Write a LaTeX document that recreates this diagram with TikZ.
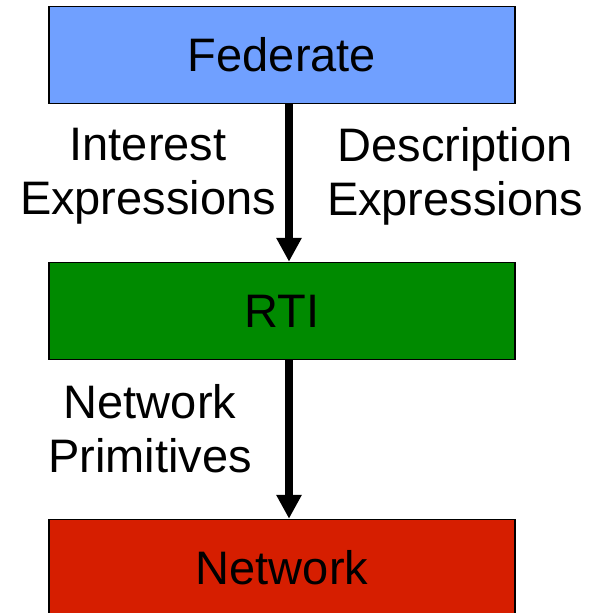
\documentclass[tikz,border=0pt]{standalone}
\usepackage{fontspec}
\setmainfont{Liberation Sans}
\usetikzlibrary{arrows.meta}
\definecolor{fedblue}{RGB}{112,160,255}
\definecolor{rtigreen}{RGB}{0,138,0}
\definecolor{netred}{RGB}{214,30,0}
\tikzset{
  layerbox/.style={draw=black, line width=1.5pt, minimum width=466pt, minimum height=97pt, inner sep=0pt, font=\fontsize{47}{55}\selectfont},
  flowarrow/.style={line width=8pt, -{Triangle[width=24pt,length=24pt]}},
  lbl/.style={align=center, inner sep=0pt, font=\fontsize{47}{54}\selectfont}
}
\begin{document}
\begin{tikzpicture}[x=1pt,y=-1pt]
\useasboundingbox (0,0) rectangle (600,613);
\clip (0,0) rectangle (600,613);
\node[layerbox, fill=fedblue] (fed) at (282,55) {Federate};
\node[layerbox, fill=rtigreen] (rti) at (282,311) {RTI};
\node[layerbox, fill=netred] (net) at (282,568) {Network};
\draw[flowarrow] ([xshift=7pt]fed.south) -- ([xshift=7pt]rti.north);
\draw[flowarrow] ([xshift=7pt]rti.south) -- ([xshift=7pt]net.north);
\node[lbl] (ie) at (148,176) {Interest\\Expressions};
\node[lbl] (de) at (455,176) {Description\\Expressions};
\node[lbl] (np) at (150,429) {Network\\Primitives};
\end{tikzpicture}
\end{document}
